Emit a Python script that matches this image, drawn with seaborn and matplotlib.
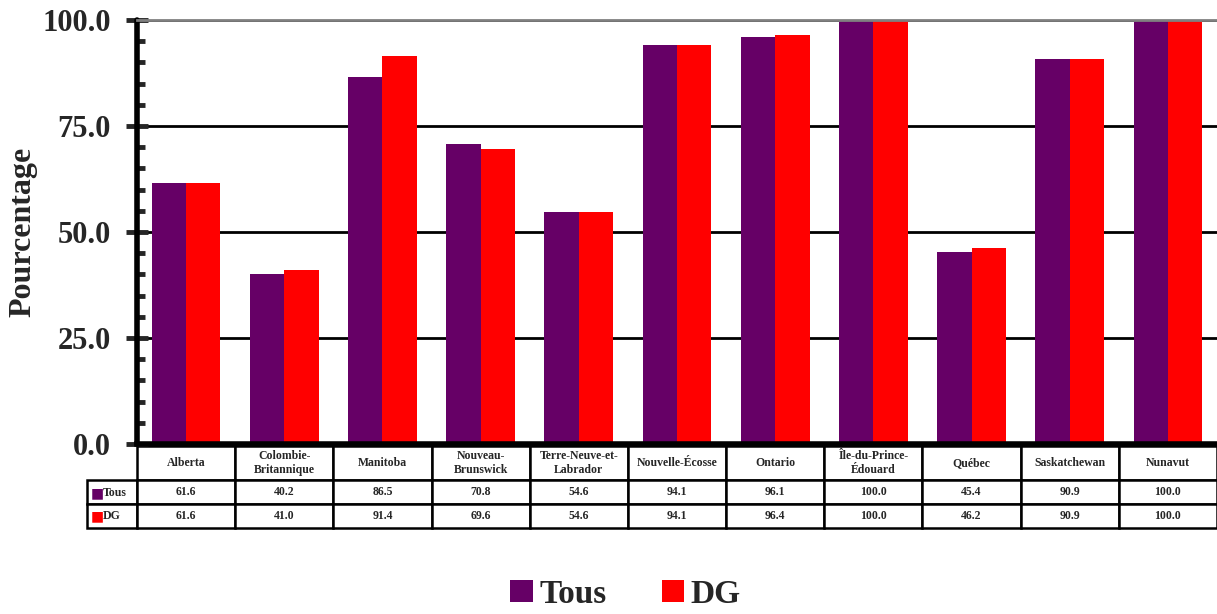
import numpy as np
import pandas as pd
import seaborn as sns
import matplotlib.pyplot as plt
from matplotlib.ticker import MultipleLocator, FormatStrFormatter

# data
provinces = ["Alberta", "Colombie-\nBritannique", "Manitoba", "Nouveau-\nBrunswick",
             "Terre-Neuve-et-\nLabrador", "Nouvelle-Écosse", "Ontario",
             "Île-du-Prince-\nÉdouard", "Québec", "Saskatchewan", "Nunavut"]
tous = [61.6, 40.2, 86.5, 70.8, 54.6, 94.1, 96.1, 100.0, 45.4, 90.9, 100.0]
dg = [61.6, 41.0, 91.4, 69.6, 54.6, 94.1, 96.4, 100.0, 46.2, 90.9, 100.0]
series = ["Tous", "DG"]
colors = ["#660066", "#FF0000"]

df = pd.DataFrame({"province": provinces * 2,
                   "serie": ["Tous"] * len(tous) + ["DG"] * len(dg),
                   "valeur": tous + dg})

sns.set_style("white")
plt.rcParams["font.family"] = ["Liberation Serif", "DejaVu Serif"]
plt.rcParams["font.weight"] = "bold"

fig = plt.figure(figsize=(12.17, 6.14), dpi=100)
ax = fig.add_axes([137 / 1217, 1 - 444 / 614, 1 - 137 / 1217, (444 - 20) / 614])

sns.barplot(data=df, x="province", y="valeur", hue="serie", palette=colors,
            hue_order=series, width=0.7, saturation=1, linewidth=0, ax=ax, errorbar=None)

ax.set_ylim(0, 100)
ax.set_xlim(-0.5, len(provinces) - 0.5)
ax.yaxis.set_major_locator(MultipleLocator(25))
ax.yaxis.set_minor_locator(MultipleLocator(5))
ax.yaxis.set_major_formatter(FormatStrFormatter("%.1f"))
ax.tick_params(axis="y", which="major", direction="inout", length=16, width=3.5,
               labelsize=22, pad=11, left=True)
ax.tick_params(axis="y", which="minor", direction="in", length=6, width=3.5, left=True)
for t in ax.yaxis.get_ticklines(minor=False) + ax.yaxis.get_ticklines(minor=True):
    t.set_solid_capstyle("round")
for lab in ax.get_yticklabels():
    lab.set_fontweight("bold")
ax.set_xticks([])
ax.set_xlabel("")
ax.set_ylabel("Pourcentage", fontsize=23, fontweight="bold")
ax.yaxis.label.set_va("center")
ax.yaxis.set_label_coords(-114 / 1080, 0.5)

ax.set_axisbelow(True)
ax.yaxis.grid(True, which="major", color="black", linewidth=2)
for s in ["left", "bottom"]:
    ax.spines[s].set_color("black")
    ax.spines[s].set_linewidth(4)
ax.spines["left"].set_capstyle("round")
ax.spines["right"].set_visible(False)
ax.spines["top"].set_color("#808080")
ax.spines["top"].set_linewidth(2)

# legend at bottom
handles, labels = ax.get_legend_handles_labels()
ax.get_legend().remove()
fig.legend(handles, labels, loc="lower center", bbox_to_anchor=(0.514, -0.042), ncol=2,
           frameon=False, handlelength=0.67, handleheight=0.67, handletextpad=0.2,
           columnspacing=1.65, prop={"size": 24, "weight": "bold"})

# data table under the axis
cell_text = [[f"{v:.1f}" for v in tous], [f"{v:.1f}" for v in dg]]
tbl = ax.table(cellText=cell_text, rowLabels=["", ""], colLabels=provinces,
               colWidths=[1 / 11] * 11,
               cellLoc="center", bbox=[0, -(528 - 444) / 424, 1, 82 / 424])
tbl._autoColumns = []
tbl.auto_set_font_size(False)
tbl.set_fontsize(8.5)
for (r, c), cell in tbl.get_celld().items():
    cell.set_linewidth(1.8)
    cell.set_edgecolor("black")
    cell.get_text().set_fontweight("bold")
    cell.set_height(33 if r == 0 else 23.5)
    if c == -1:
        cell.set_width(50 / 1080)

# colored keys in row labels
for i, (name, col) in enumerate(zip(series, colors)):
    yy = -(493 + 23 * i - 444) / 424
    ax.text(-46 / 1080, yy, "■", color=col, fontsize=10, va="center", ha="left",
            transform=ax.transAxes, family=["DejaVu Sans"])
    ax.text(-34 / 1080, yy, name, fontsize=8.5, fontweight="bold", va="center",
            ha="left", transform=ax.transAxes)

fig.savefig("out.png", dpi=100)
